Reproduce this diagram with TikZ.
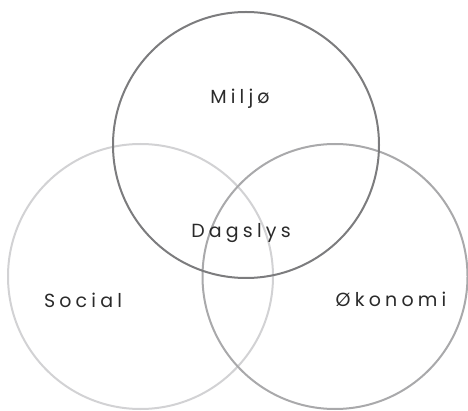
\documentclass[tikz,border=0pt]{standalone}
\usepackage{fontspec}
\newfontfamily\labfont[LetterSpace=22]{Poppins}
\definecolor{cTop}{HTML}{7C7C7E}
\definecolor{cLeft}{HTML}{D2D2D4}
\definecolor{cRight}{HTML}{A9A9AB}
\definecolor{cText}{HTML}{2A2A2A}
\begin{document}
\begin{tikzpicture}[x=1pt,y=-1pt,
  ring/.style={draw=#1,line width=2pt,fill=none},
  lab/.style={font=\labfont\fontsize{19}{22}\selectfont,text=cText,inner sep=0pt,anchor=base}]
\useasboundingbox (0,0) rectangle (468,411);
\draw[ring=cLeft] (140.5,276.5) circle[radius=132.5];
\draw[ring=cRight] (335,276.5) circle[radius=132.5];
\draw[ring=cTop] (246,145) circle[radius=133];
\node[lab] (miljo) at (240,104) {Miljø};
\node[lab] (dagslys) at (241,238) {Dagslys};
\node[lab] (social) at (83,308) {Social};
\node[lab] (okonomi) at (391,306) {Økonomi};
\end{tikzpicture}
\end{document}
